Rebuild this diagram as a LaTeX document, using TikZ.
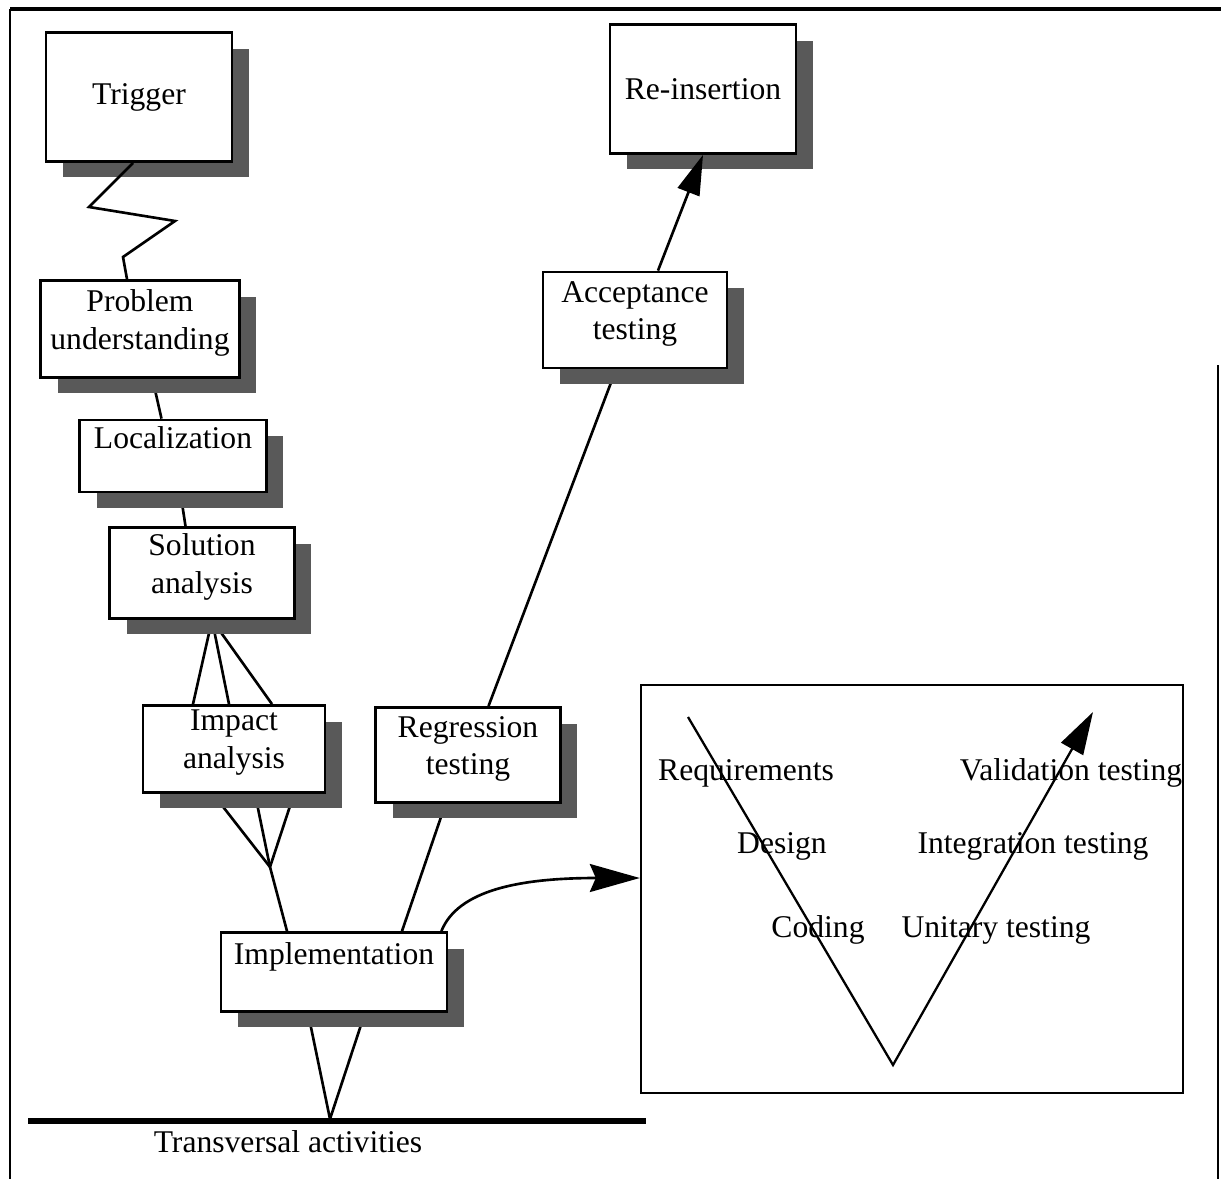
\documentclass[tikz,border=0pt]{standalone}
\usepackage{fontspec}
\setmainfont{Liberation Serif}
\usetikzlibrary{arrows.meta,shadows,backgrounds}

\tikzset{
  box/.style={draw, line width=1.6pt, fill=white, inner sep=0pt, align=center,
    drop shadow={shadow xshift=0.34cm, shadow yshift=-0.32cm, opacity=1, fill=black!65}},
  twoline/.style={text depth=0.38cm},
  link/.style={line width=1.5pt},
  bigtip/.style={-{Triangle[length=0.8cm,width=0.46cm]}}
}

\begin{document}
\begin{tikzpicture}[x=0.02cm, y=-0.02cm, font=\fontsize{18}{21.5}\selectfont]
 \useasboundingbox (0,0) rectangle (1221,1179);
 \draw [line width=1.2pt] (10,1179) -- (10,9);
 \draw [line width=2pt] (10,9) -- (1221,9);
 \draw [line width=1.2pt] (1218,365) -- (1218,1179);

 \node [box, minimum width=3.72cm, minimum height=2.58cm] (trig) at (139,97) {Trigger};
 \node [box, minimum width=3.72cm, minimum height=2.58cm] (reins) at (703,89) {Re-insertion};
 \node [box, twoline, minimum width=3.98cm, minimum height=1.94cm] (prob) at (140,329) {Problem\\understanding};
 \node [box, minimum width=3.74cm, minimum height=1.44cm] (loc) at (173,456) {Localization\\~};
 \node [box, twoline, minimum width=3.70cm, minimum height=1.82cm] (sol) at (202,573) {Solution\\analysis};
 \node [box, twoline, minimum width=3.64cm, minimum height=1.74cm] (imp) at (234,749) {Impact\\analysis};
 \node [box, twoline, minimum width=3.70cm, minimum height=1.90cm] (reg) at (468,755) {Regression\\testing};
 \node [box, twoline, minimum width=3.68cm, minimum height=1.92cm] (acc) at (635,320) {Acceptance\\testing};
 \node [box, minimum width=4.52cm, minimum height=1.58cm] (impl) at (334,972) {Implementation\\~};
 \node [draw, line width=1.4pt, minimum width=10.84cm, minimum height=8.16cm] (vbox) at (912,889) {};

 \coordinate (z1) at (89,207);
 \coordinate (z2) at (175,221);
 \coordinate (z3) at (123,257);
 \draw [link] ([xshift=-0.12cm]trig.south) -- (z1) -- (z2) -- (z3) -- ([xshift=-0.26cm]prob.north);

 \coordinate (j1) at (270,867);
 \coordinate (tl) at (28,1121);
 \coordinate (tr) at (646,1121);
 \coordinate (tapex) at (330,1119);
 \begin{scope}[on background layer]
  \draw [link] ([xshift=0.25cm]prob.south) -- ([xshift=-0.23cm]loc.north);
  \draw [link] ([xshift=0.15cm]loc.south) -- ([xshift=-0.33cm]sol.north);
  \draw [link] ([xshift=-0.82cm]imp.north) -- ([xshift=0.2cm]sol.south) -- ([xshift=-0.1cm]imp.north);
  \draw [link] ([xshift=0.2cm]sol.south) -- ([xshift=0.76cm]imp.north);
  \draw [link] ([xshift=-0.42cm]imp.south) -- (j1) -- ([xshift=1.2cm]imp.south);
  \draw [link] ([xshift=0.42cm]imp.south) -- (j1) -- ([xshift=-0.94cm]impl.north);
  \draw [link] ([xshift=-0.45cm]reg.south) -- ([xshift=1.36cm]impl.north);
  \draw [link] ([xshift=0.41cm]reg.north) -- ([xshift=-0.38cm]acc.south);
  \draw [link] ([xshift=-0.52cm]impl.south) -- (tapex) -- ([xshift=0.62cm]impl.south);
 \end{scope}
 \draw [link, bigtip] ([xshift=0.46cm]acc.north) -- (reins.south);
 \draw [link, -{Stealth[length=1cm,width=0.56cm,inset=0.12cm]}] ([xshift=-0.14cm]impl.north east) .. controls (458,890) and (520,878) .. ([yshift=0.22cm]vbox.west);

 \draw [line width=3.4pt] (tl) -- (tr);
 \node (trans) at (288,1142) {Transversal activities};

 \node (req) at (746,773) {Requirements};
 \node (des) at (782,846) {Design};
 \node (cod) at (818,930) {Coding};
 \node (val) at (1071,773) {Validation testing};
 \node (integ) at (1033,846) {Integration testing};
 \node (unit) at (996,930) {Unitary testing};

 \coordinate (vtop) at (688,717);
 \coordinate (vbot) at (893,1065);
 \coordinate (vend) at (1093,712);
 \draw [line width=1.3pt, -{Triangle[length=0.85cm,width=0.5cm]}] (vtop) -- (vbot) -- (vend);
\end{tikzpicture}
\end{document}
